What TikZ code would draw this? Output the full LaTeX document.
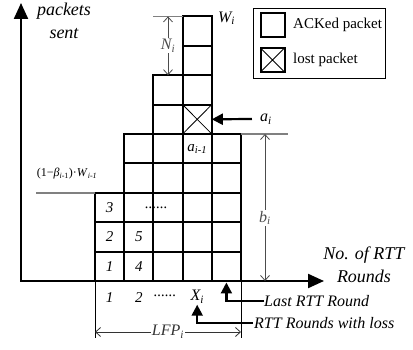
\documentclass[tikz,border=0pt]{standalone}
\usepackage{fontspec}
\setmainfont{Liberation Serif}
\usetikzlibrary{arrows.meta,positioning}

\newcommand{\subit}[2]{\textit{#1}\textsubscript{\textit{#2}}}

\begin{document}
\begin{tikzpicture}[x=1pt, y=-1pt,
    cell/.style={draw, line width=2pt, minimum width=29.2pt, minimum height=29.4pt, inner sep=0pt, outer sep=0pt},
    axis/.style={line width=2.2pt, {Triangle[length=16pt,width=14pt]}-{Triangle[length=16pt,width=14pt]}},
    pointer/.style={line width=2.2pt, -{Triangle[length=11pt,width=11pt]}},
    dim/.style={gray!60!black, line width=0.8pt, {Straight Barb[length=5pt,width=9pt]}-{Straight Barb[length=5pt,width=9pt]}},
    ext/.style={gray, line width=1.6pt},
    lbl/.style={font=\fontsize{16}{18}\selectfont\itshape, inner sep=1pt},
    num/.style={font=\fontsize{15}{17}\selectfont\itshape},
    axlbl/.style={font=\fontsize{18}{23}\selectfont\itshape, align=center},
    legtxt/.style={font=\fontsize{15}{17}\selectfont, anchor=west, inner sep=0pt}]
    \useasboundingbox (0,0) rectangle (413,350);

    % axes
    \coordinate (origin) at (21,281);
    \coordinate (ytip) at (21,3);
    \coordinate (xtip) at (324,281);
    \draw[axis] (ytip) -- (origin) -- (xtip);
    \node[axlbl] (ylab) at (64,21) {packets\\sent};
    \node[axlbl] (xlab) at (364,265) {No. of RTT\\Rounds};

    % packets, one column per RTT round
    \foreach \c/\h in {0/3,1/5,2/7,3/9,4/5}
        \foreach \r in {1,...,\h}
            \node[cell] (c\c-\r) at ({95+29.2*(\c+0.5)}, {281-29.4*(\r-0.5)}) {};
    \draw[line width=0.8pt] (c3-6.north west) -- (c3-6.south east)
        (c3-6.north east) -- (c3-6.south west);

    % numbers in the cells
    \foreach \c/\r/\t in {0/1/1,0/2/2,0/3/3,1/1/4,1/2/5}
        \node[num] (t\c-\r) at (c\c-\r) {\t};
    \node[num] (dots) at ([xshift=3pt]c1-3.east) {......};
    \node[num] (aprev) at (c3-5) {\subit{a}{i-1}};

    % round numbers
    \node[num] (r1) at ([yshift=-17pt]c0-1.south) {1};
    \node[num] (r2) at ([yshift=-17pt]c1-1.south) {2};
    \node[num] (rdots) at ([yshift=-15pt,xshift=-3pt]c2-1.south) {......};
    \node[lbl] (xi) at ([yshift=-16pt]c3-1.south) {\subit{X}{i}};

    % W_i and N_i
    \node[lbl, anchor=west] (wi) at ([xshift=5pt,yshift=-2pt]c3-9.north east) {\subit{W}{i}};
    \coordinate (ntop) at (c2-7.north |- c3-9.north);
    \draw[ext] (c2-7.north west |- c3-9.north) -- (c3-9.north west);
    \draw[dim] (ntop) -- node[lbl, fill=white] (ni) {\subit{N}{i}} (c2-7.north);

    % lost packet a_i
    \node[lbl] (ai) at (266,119) {\subit{a}{i}};
    \draw[pointer] ([xshift=-7pt]ai.west) -- (c3-6.east);

    % b_i
    \draw[ext] (c4-5.north east) -- ++(47,0) coordinate (bext);
    \coordinate (btop) at ([xshift=24pt]c4-5.north east);
    \draw[dim] (btop) -- node[lbl, fill=white, pos=0.57] (bi) {\subit{b}{i}} (btop |- origin);

    % (1-beta) W
    \draw[ext] (c0-3.north west) -- ++(-59,0) coordinate (betaext);
    \node[font=\fontsize{12}{14}\selectfont, inner sep=0pt] (beta) at (67,174) {(1−\textit{β}\textsubscript{\textit{i}-1})·\subit{W}{i-1}};

    % LFP_i
    \draw[line width=0.8pt] (c0-1.south west) -- ++(0,57) coordinate (lfpl);
    \draw[line width=0.8pt] (c4-1.south east) -- ++(0,57) coordinate (lfpr);
    \draw[dim, black!80] ([yshift=6pt]lfpl) -- node[lbl, fill=white] (lfp) {\subit{LFP}{i}} ([yshift=6pt]lfpr);

    % pointers to the rounds
    \node[lbl, anchor=west] (last) at (263,301) {Last RTT Round};
    \draw[pointer] ([xshift=1pt]last.west) -| ([yshift=-1.5pt]c4-1.south);
    \node[lbl, anchor=west] (loss) at (253,323) {RTT Rounds with loss};
    \draw[pointer] (loss.west) -| (xi.south);

    % legend
    \draw[line width=0.8pt] (253,8) rectangle (385,78);
    \node[cell, minimum size=24pt] (legack) at (272.5,25) {};
    \node[cell, minimum size=24pt] (leglost) at (272.5,60) {};
    \draw[line width=0.8pt] (leglost.north west) -- (leglost.south east)
        (leglost.north east) -- (leglost.south west);
    \node[legtxt] (tack) at (293,25) {ACKed packet};
    \node[legtxt] (tlost) at (293,60) {lost packet};
\end{tikzpicture}
\end{document}
